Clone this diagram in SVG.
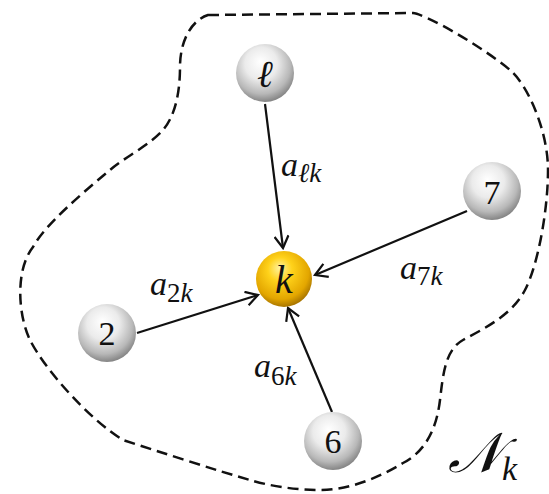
<svg xmlns="http://www.w3.org/2000/svg" width="549" height="494" viewBox="0 0 549 494">
<style>
.bnd{fill:none;stroke:#111;stroke-width:2.5;stroke-dasharray:11,6}
.edge{fill:none;stroke:#111;stroke-width:2.2;marker-end:url(#arr)}
.num{font-family:"Liberation Serif","DejaVu Serif",serif;font-size:34px;fill:#111;text-anchor:middle}
.mi{font-family:"Liberation Serif","DejaVu Serif",serif;font-style:italic;fill:#111}
.lab{font-size:34px}
.sub{font-size:27px}
.up{font-style:normal}
</style>
<defs>
<radialGradient id="g" cx="0.45" cy="0.38" r="0.62" fx="0.42" fy="0.3">
<stop offset="0" stop-color="#ffffff"/>
<stop offset="0.45" stop-color="#ebebeb"/>
<stop offset="0.8" stop-color="#b8b8b8"/>
<stop offset="1" stop-color="#858585"/>
</radialGradient>
<radialGradient id="y" cx="0.45" cy="0.38" r="0.62" fx="0.42" fy="0.3">
<stop offset="0" stop-color="#fff2a0"/>
<stop offset="0.35" stop-color="#ffd21a"/>
<stop offset="0.8" stop-color="#e3a600"/>
<stop offset="1" stop-color="#a87500"/>
</radialGradient>
<marker id="arr" markerWidth="16" markerHeight="16" refX="0" refY="0" viewBox="-14 -8 16 16" orient="auto" markerUnits="userSpaceOnUse">
<path d="M -12,-7 L 0,0 L -12,7" fill="none" stroke="#111" stroke-width="2.2"/>
</marker>
</defs>
<path id="boundary" class="bnd" d="M 208,15 L 413,13 C 425,14 480,45 510,70 C 527,84 548,130 548,170 C 548,210 538,265 525,290 C 512,315 485,328 463,340 C 445,350 443,375 440,400 C 437,425 428,450 403,463 C 380,477 350,490 320,490 C 295,490 270,486 250,480 C 215,470 160,452 123,440 C 90,420 45,370 30,340 C 18,315 15,270 33,247 C 45,225 80,195 110,170 C 125,157 150,145 163,130 C 176,115 180,90 180,67 C 180,40 192,20 208,15 Z"/>
<g id="connectors">
<line class="edge" x1="265" y1="104" x2="283" y2="248"/>
<line class="edge" x1="467" y1="211" x2="315" y2="275"/>
<line class="edge" x1="137" y1="333" x2="258" y2="295"/>
<line class="edge" x1="332" y1="412" x2="288" y2="308"/>
</g>
<g id="node-l">
<circle cx="265" cy="73" r="29" fill="url(#g)"/>
<text class="mi" x="265" y="87" font-size="38" text-anchor="middle">ℓ</text>
</g>
<g id="node-k">
<circle cx="284" cy="279" r="28" fill="url(#y)"/>
<text class="mi" x="284" y="293" font-size="40" text-anchor="middle">k</text>
</g>
<g id="node-2">
<circle cx="107" cy="333" r="29" fill="url(#g)"/>
<text class="num" x="107" y="345">2</text>
</g>
<g id="node-6">
<circle cx="333" cy="441" r="29" fill="url(#g)"/>
<text class="num" x="333" y="453">6</text>
</g>
<g id="node-7">
<circle cx="492" cy="191" r="29" fill="url(#g)"/>
<text class="num" x="492" y="204">7</text>
</g>
<g id="labels">
<text class="mi lab" x="281" y="176">a<tspan class="sub" dy="6">ℓk</tspan></text>
<text class="mi lab" x="400" y="279">a<tspan class="sub up" dy="6">7</tspan><tspan class="sub">k</tspan></text>
<text class="mi lab" x="150" y="295">a<tspan class="sub up" dy="7">2</tspan><tspan class="sub">k</tspan></text>
<text class="mi lab" x="254" y="377">a<tspan class="sub up" dy="8">6</tspan><tspan class="sub">k</tspan></text>
<text class="mi" x="448" y="472" font-size="56">𝒩<tspan font-size="34" dy="8">k</tspan></text>
</g>
</svg>
